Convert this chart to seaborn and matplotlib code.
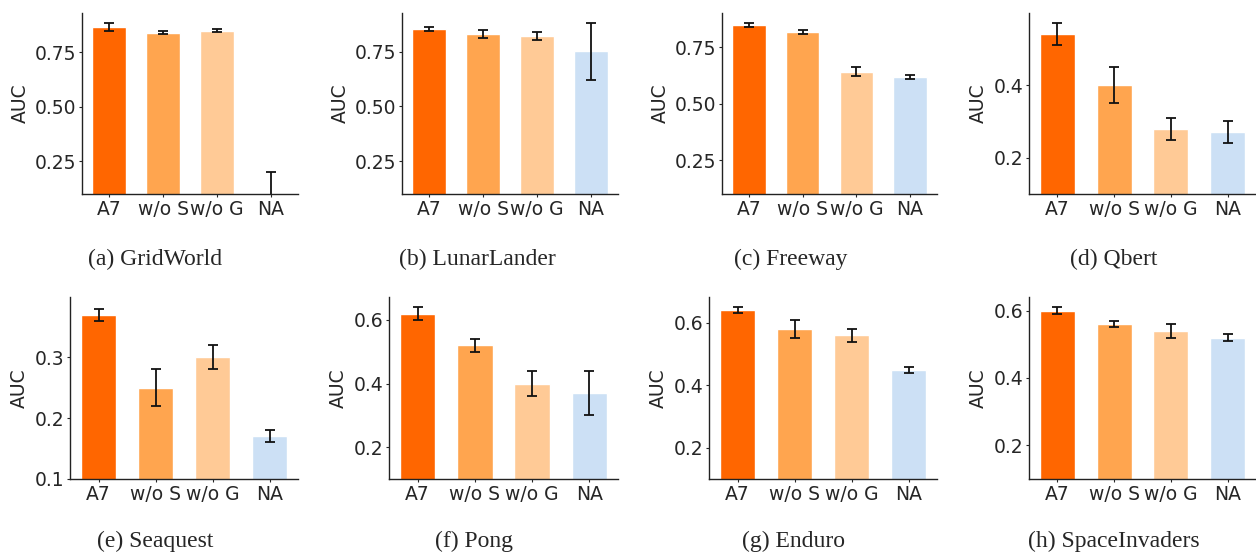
import numpy as np
import pandas as pd
import seaborn as sns
import matplotlib.pyplot as plt

methods = ["A7", "w/o S", "w/o G", "NA"]
colors = ["#FF6600", "#FFA54F", "#FFCA96", "#CCE0F5"]

envs = ["GridWorld", "LunarLander", "Freeway", "Qbert",
        "Seaquest", "Pong", "Enduro", "SpaceInvaders"]
letters = ["a", "b", "c", "d", "e", "f", "g", "h"]

gridworld = [0.865, 0.839, 0.848, 0.05]
gridworld_err = [0.02, 0.008, 0.008, 0.15]
lunarlander = [0.852, 0.83, 0.821, 0.752]
lunarlander_err = [0.01, 0.02, 0.02, 0.13]
freeway = [0.848, 0.818, 0.64, 0.618]
freeway_err = [0.01, 0.008, 0.02, 0.008]
qbert = [0.54, 0.40, 0.28, 0.27]
qbert_err = [0.03, 0.05, 0.03, 0.03]
seaquest = [0.37, 0.25, 0.30, 0.17]
seaquest_err = [0.01, 0.03, 0.02, 0.01]
pong = [0.62, 0.52, 0.40, 0.37]
pong_err = [0.02, 0.02, 0.04, 0.07]
enduro = [0.64, 0.58, 0.56, 0.45]
enduro_err = [0.01, 0.03, 0.02, 0.01]
spaceinvaders = [0.60, 0.56, 0.54, 0.52]
spaceinvaders_err = [0.01, 0.01, 0.02, 0.01]

means = [gridworld, lunarlander, freeway, qbert, seaquest, pong, enduro, spaceinvaders]
errs = [gridworld_err, lunarlander_err, freeway_err, qbert_err,
        seaquest_err, pong_err, enduro_err, spaceinvaders_err]

yticks = [[0.25, 0.5, 0.75], [0.25, 0.5, 0.75], [0.25, 0.5, 0.75], [0.2, 0.4],
          [0.1, 0.2, 0.3], [0.2, 0.4, 0.6], [0.2, 0.4, 0.6], [0.2, 0.4, 0.6]]

sns.set_style("white")
plt.rcParams['font.family'] = ['DejaVu Sans']

W, H = 1256, 554
fig = plt.figure(figsize=(W / 100, H / 100), dpi=100)

# axes boxes in pixels: left, right, top, bottom
lefts = [82, 402, 722, 1029, 70, 389, 709, 1029]
rights = [298, 618, 937, 1256, 298, 618, 937, 1256]
tops = [13, 13, 13, 13, 297, 297, 297, 297]
bottoms = [194, 194, 194, 194, 479, 479, 479, 479]
cap_x = [155, 477, 791, 1114, 155, 474, 794, 1114]
cap_y = [265, 265, 265, 265, 547, 547, 547, 547]

for i in range(8):
    ax = fig.add_axes([lefts[i] / W, 1 - bottoms[i] / H,
                       (rights[i] - lefts[i]) / W, (bottoms[i] - tops[i]) / H])
    df = pd.DataFrame({"method": methods, "auc": means[i]})
    sns.barplot(data=df, x="method", y="auc", hue="method", palette=colors,
                width=0.62, errorbar=None, legend=False, ax=ax, saturation=1)
    xs = [p.get_x() + p.get_width() / 2 for p in ax.patches]
    ax.errorbar(xs, means[i], yerr=errs[i], fmt="none", ecolor="#111111",
                elinewidth=1.3, capsize=3.3, capthick=1.3)
    top = max(np.array(means[i]) + np.array(errs[i])) * 1.05
    ax.set_ylim(0.1, top)
    ax.set_xlim(-0.5, 3.5)
    ax.set_yticks(yticks[i])
    ax.set_xlabel("")
    ax.set_ylabel("AUC", fontsize=13.5)
    ax.tick_params(axis="both", labelsize=13.5, length=2, width=0.8,
                   left=True, bottom=True, pad=2)
    sns.despine(ax=ax)
    for s in ["left", "bottom"]:
        ax.spines[s].set_color("#222222")
        ax.spines[s].set_linewidth(1.0)
    fig.text(cap_x[i] / W, 1 - cap_y[i] / H,
             "({}) {}".format(letters[i], envs[i]), ha="center",
             va="baseline", fontsize=17, family="Liberation Serif")

plt.savefig("out.png", dpi=100)
